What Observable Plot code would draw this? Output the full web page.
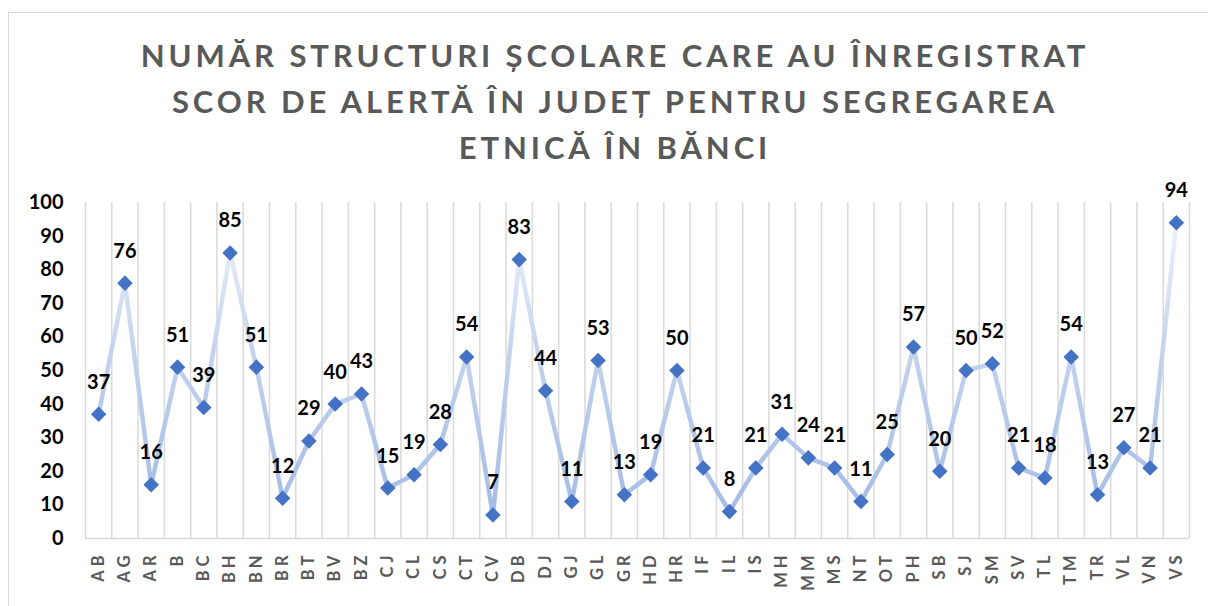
<!DOCTYPE html>
<html>
<head>
<meta charset="utf-8">
<script src="https://cdn.jsdelivr.net/npm/d3@7"></script>
<script src="https://cdn.jsdelivr.net/npm/@observablehq/plot@0.6"></script>
<style>
  html, body { margin: 0; padding: 0; background: #fff; }
  #wrap { position: relative; width: 1208px; height: 606px; overflow: hidden; font-family: Lato, "Open Sans", sans-serif; }
  #frame { position: absolute; left: 8px; top: 12px; width: 1400px; height: 800px; border: 1.5px solid #D9D9D9; box-sizing: border-box; }
  #title { position: absolute; left: 0; top: 0; width: 1208px; height: 170px; text-align: center; color: #595959; font-family: Lato, sans-serif; font-weight: 700; font-size: 31px; letter-spacing: 3.9px; line-height: 46px; padding-top: 32px; box-sizing: border-box; padding-left: 22px; }
  #chart { position: absolute; left: 0; top: 170px; }
  #chart g[aria-label="x-axis tick label"] text { letter-spacing: 4px; }
</style>
</head>
<body>
<div id="wrap">
  <div id="frame"></div>
  <div id="title">NUMĂR STRUCTURI ȘCOLARE CARE AU ÎNREGISTRAT<br>SCOR DE ALERTĂ ÎN JUDEȚ PENTRU SEGREGAREA<br>ETNICĂ ÎN BĂNCI</div>
  <div id="chart"></div>
</div>
<script>
const counties = ["AB","AG","AR","B","BC","BH","BN","BR","BT","BV","BZ","CJ","CL","CS","CT","CV","DB","DJ","GJ","GL","GR","HD","HR","IF","IL","IS","MH","MM","MS","NT","OT","PH","SB","SJ","SM","SV","TL","TM","TR","VL","VN","VS"];
const values = [37,76,16,51,39,85,51,12,29,40,43,15,19,28,54,7,83,44,11,53,13,19,50,21,8,21,31,24,21,11,25,57,20,50,52,21,18,54,13,27,21,94];
const yTicks = [0,10,20,30,40,50,60,70,80,90,100];

const data = counties.map((c, i) => ({i, county: c, value: values[i]}));
const idx = d3.range(counties.length);
const boundaries = d3.range(counties.length + 1).map(k => k - 0.5);

const chart = Plot.plot({
  width: 1208,
  height: 436,
  marginTop: 32,
  marginBottom: 68,
  marginLeft: 85,
  marginRight: 19,
  style: {fontFamily: "Lato, sans-serif", background: "transparent"},
  x: {type: "linear", domain: [-0.5, counties.length - 0.5], label: null},
  y: {domain: [0, 100], label: null},
  marks: [
    Plot.ruleX(boundaries, {x: d => d, y1: 0, y2: 100, stroke: "#D9D9D9", strokeWidth: 1.5}),
    Plot.ruleY([0], {stroke: "#D9D9D9", strokeWidth: 1.5}),
    Plot.axisY({ticks: yTicks, label: null, tickSize: 0, tickPadding: 22, fontSize: 20, fontWeight: "bold", fill: "#000"}),
    Plot.axisX({ticks: idx, label: null, tickFormat: i => counties[i], tickRotate: -90, tickSize: 0, tickPadding: 13, fontSize: 16.5, fontWeight: "bold", fill: "#595959"}),
    Plot.line(data, {x: "i", y: "value", stroke: "url(#lineGrad)", strokeWidth: 4.5, strokeLinejoin: "round"}),
    Plot.dot(data, {x: "i", y: "value", symbol: "diamond2", r: 7, fill: "#4472C4", stroke: "none"}),
    Plot.text(data, {x: "i", y: "value", text: d => String(d.value), dy: -32, fontSize: 20, fontWeight: "bold", fill: "#000"})
  ]
});

const ys = chart.scale("y");
const ns = "http://www.w3.org/2000/svg";
const defs = document.createElementNS(ns, "defs");
const grad = document.createElementNS(ns, "linearGradient");
grad.setAttribute("id", "lineGrad");
grad.setAttribute("gradientUnits", "userSpaceOnUse");
grad.setAttribute("x1", 0); grad.setAttribute("x2", 0);
grad.setAttribute("y1", ys.apply(100)); grad.setAttribute("y2", ys.apply(0));
[["0%", "#F2F6FC"], ["45%", "#C3D3EE"], ["100%", "#A0B8E4"]].forEach(([o, c]) => {
  const s = document.createElementNS(ns, "stop");
  s.setAttribute("offset", o); s.setAttribute("stop-color", c);
  grad.appendChild(s);
});
defs.appendChild(grad);
chart.insertBefore(defs, chart.firstChild);
document.getElementById("chart").appendChild(chart);
</script>
</body>
</html>
